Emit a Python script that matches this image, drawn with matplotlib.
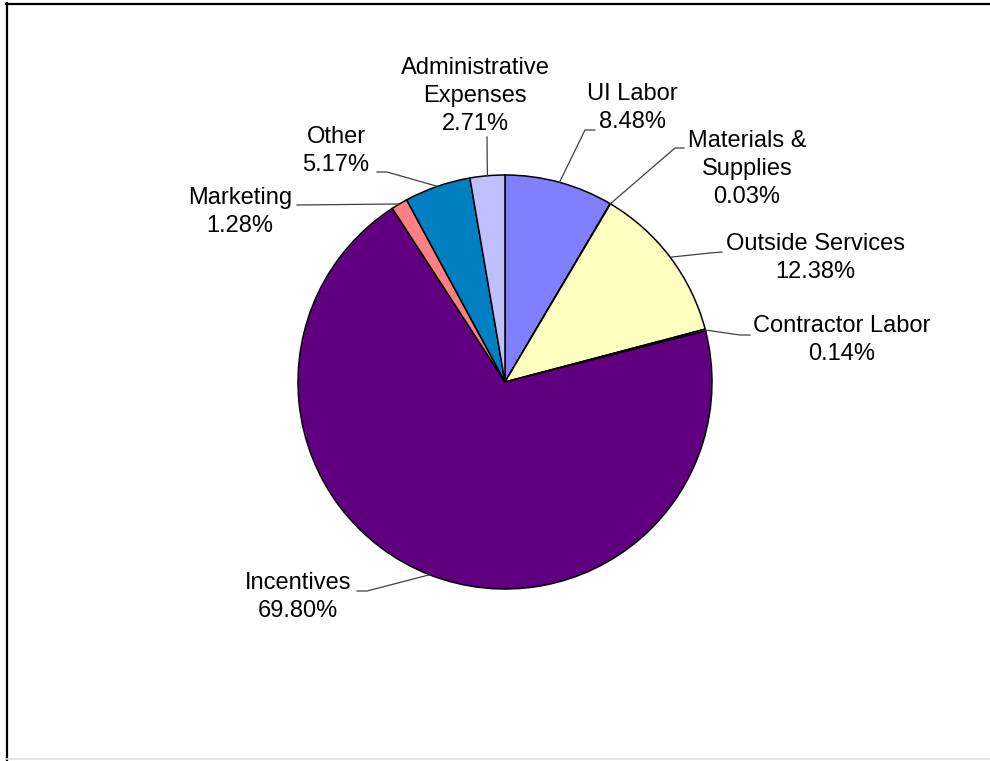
import numpy as np
import matplotlib
matplotlib.use("Agg")
import matplotlib.pyplot as plt

plt.rcParams['font.family'] = ['Liberation Sans', 'DejaVu Sans']

# Data
categories = ["UI Labor", "Materials &\nSupplies", "Outside Services", "Contractor Labor",
              "Incentives", "Marketing", "Other", "Administrative\nExpenses"]
shares = [8.48, 0.03, 12.38, 0.14, 69.80, 1.28, 5.17, 2.71]
colors = ["#8080FF", "#802060", "#FFFFC0", "#A0E0E0", "#600080", "#FF8080", "#0080C0", "#C0C0FF"]

# Label layout (image pixel coords): text centre, leader-line knee and end point
label_xy = [(632, 108), (747, 169), (815, 258), (842, 340),
            (298, 597), (240, 212), (336, 151), (475, 96)]
leader_knee = [(585, 130), (675, 148), (710, 253), (740, 335),
               (367, 591), (297, 205), (387, 172), (487, 137)]
leader_end = [(595, 130), (684, 148), (722, 252), (750, 335),
              (357, 591), (297, 205), (377, 172), (487, 137)]

W, H = 990, 761
cx, cy, R = 505, 382, 207

fig = plt.figure(figsize=(W / 100, H / 100), dpi=100)
ax = fig.add_axes([0, 0, 1, 1])

wedges, _ = ax.pie(shares, colors=colors, startangle=-90, counterclock=True,
                   center=(cx, cy), radius=R,
                   wedgeprops=dict(edgecolor="black", linewidth=1.1))
ax.set_xlim(0, W)
ax.set_ylim(H, 0)
ax.set_aspect("auto")
ax.axis("off")

# Leader lines and labels
cum = np.cumsum(shares) - np.array(shares) / 2
total = sum(shares)
for i, (cat, v) in enumerate(zip(categories, shares)):
    th = np.radians(-90 + 360 * cum[i] / total)
    x0, y0 = cx + R * np.cos(th), cy + R * np.sin(th)
    xk, yk = leader_knee[i]
    x1, y1 = leader_end[i]
    ax.plot([x0, xk, x1], [y0, yk, y1], color="#404040", lw=0.9)
    ax.text(label_xy[i][0], label_xy[i][1], f"{cat}\n{v:.2f}%", ha="center", va="center",
            fontsize=17, linespacing=1.37, color="black")

# Chart frame
ax.plot([7, 7], [3, 761], color="black", lw=1.6, clip_on=False)
ax.plot([6, 990], [4, 4], color="black", lw=1.6, clip_on=False)
ax.plot([7, 990], [759, 759], color="#e0e0e0", lw=1.2, clip_on=False)

fig.savefig("out.png", dpi=100, facecolor="white")
